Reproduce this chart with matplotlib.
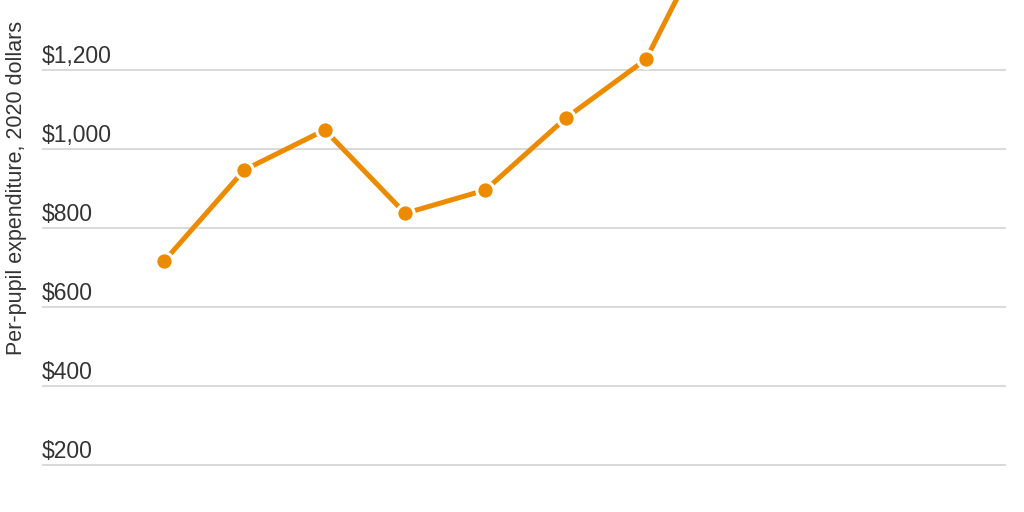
import matplotlib
matplotlib.use('Agg')
import matplotlib.pyplot as plt
import matplotlib.transforms as mtransforms

# values (last point runs off the top of the chart)
points = [0, 1, 2, 3, 4, 5, 6, 7]
spending = [716, 947, 1048, 837, 896, 1078, 1227, 1628]

tick_values = [200, 400, 600, 800, 1000, 1200]
tick_labels = ['$200', '$400', '$600', '$800', '$1,000', '$1,200']

ylabel = 'Per-pupil expenditure, 2020 dollars'

orange = '#ED8B00'
grid_col = '#d9d9d9'
text_col = '#333333'

plt.rcParams['font.family'] = ['Liberation Sans', 'DejaVu Sans']

fig = plt.figure(figsize=(10.24, 5.12), dpi=100)
ax = fig.add_axes([42 / 1024, 0, 964 / 1024, 1])

for v in tick_values:
    ax.axhline(v, color=grid_col, lw=1.4, zorder=1)

ax.plot(points, spending, color=orange, lw=3.6, marker='o', markersize=12.5,
        markerfacecolor=orange, markeredgecolor='white', markeredgewidth=2.2,
        zorder=3, solid_capstyle='butt')

trans = mtransforms.blended_transform_factory(ax.transAxes, ax.transData)
offset = mtransforms.offset_copy(trans, fig=fig, x=0, y=2, units='dots')
for v, lab in zip(tick_values, tick_labels):
    ax.text(0, v, lab, transform=offset, ha='left', va='bottom',
            fontsize=16.5, color=text_col)

fig.text(17 / 1024, 1 - 188 / 512, ylabel, rotation=90, ha='center', va='center',
         fontsize=15.5, color=text_col)

ax.set_xlim(-1.52, 10.48)
ax.set_ylim(81, 1377)
ax.axis('off')

fig.savefig('out.png', dpi=100, facecolor='white')
